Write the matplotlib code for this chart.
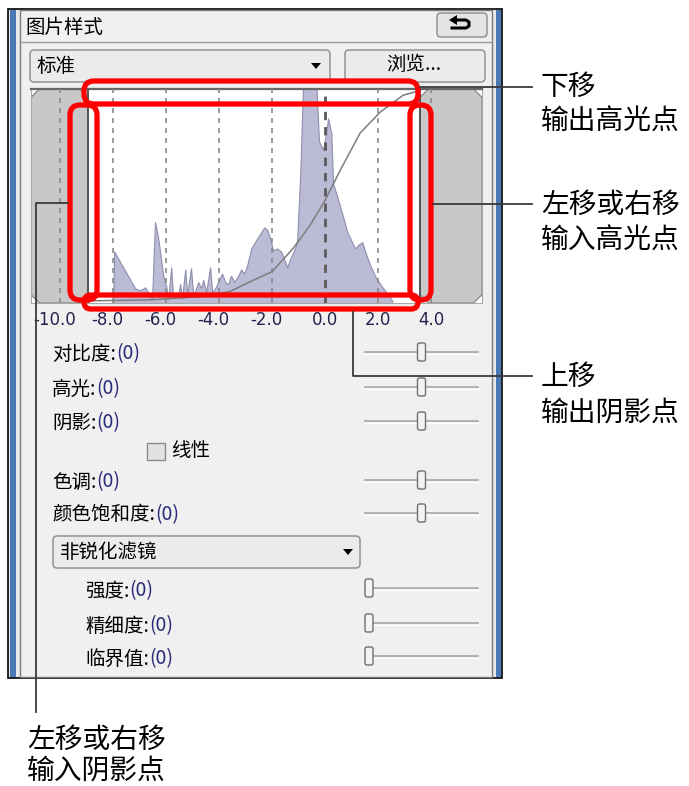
import matplotlib
matplotlib.use('Agg')
import matplotlib.pyplot as plt
from matplotlib.patches import Rectangle, FancyBboxPatch, Polygon
from matplotlib.transforms import blended_transform_factory, offset_copy

plt.rcParams['font.family'] = ['Noto Sans CJK SC', 'DejaVu Sans']

# histogram of the image (EV, relative height)
hist_ev = [-8.00, -7.96, -7.17, -6.98, -6.79, -6.60, -6.53, -6.42, -6.30, -6.11, -6.00,
           -5.92, -5.81, -5.74, -5.55, -5.47, -5.40, -5.28, -5.21, -5.06, -4.98, -4.87,
           -4.79, -4.68, -4.60, -4.49, -4.34, -4.26, -4.15, -4.00, -3.89, -3.77, -3.66,
           -3.55, -3.43, -3.28, -3.17, -3.06, -2.94, -2.79, -2.60, -2.45, -2.30, -2.19,
           -2.08, -1.96, -1.81, -1.66, -1.55, -1.43, -1.32, -1.17, -1.06, -0.94, -0.83,
           -0.34, -0.23, -0.08, 0.04, 0.11, 0.23, 0.30, 0.45, 0.68, 0.83, 0.94, 1.13,
           1.28, 1.40, 1.51, 1.70, 1.92, 2.19, 2.38, 2.53]
hist_v = [0.00, 0.235, 0.06, 0.05, 0.065, 0.02, 0.01, 0.376, 0.30, 0.12, 0.07,
          0.01, 0.16, 0.02, 0.02, 0.08, 0.01, 0.15, 0.03, 0.155, 0.03, 0.06,
          0.09, 0.06, 0.10, 0.04, 0.16, 0.04, 0.06, 0.10, 0.13, 0.09, 0.08,
          0.12, 0.09, 0.12, 0.15, 0.13, 0.17, 0.25, 0.29, 0.32, 0.35, 0.34,
          0.30, 0.24, 0.25, 0.235, 0.20, 0.16, 0.20, 0.24, 0.28, 0.60, 1.05,
          1.05, 0.76, 0.72, 0.80, 0.87, 0.80, 0.56, 0.50, 0.40, 0.33, 0.30, 0.25,
          0.27, 0.28, 0.235, 0.17, 0.11, 0.06, 0.03, 0.00]

# tone curve
curve_ev = [-8.94, -6.6, -4.72, -3.58, -3.09, -2.0, -1.21, -0.57, 0.0, 0.6, 1.32, 2.08, 2.94, 3.5]
curve_v = [0.0, 0.005, 0.02, 0.045, 0.076, 0.14, 0.25, 0.36, 0.48, 0.63, 0.80, 0.90, 0.98, 1.0]

shadow_in = -8.94
highlight_in = 3.58

tick_vals = [-10, -8, -6, -4, -2, 0, 2, 4]
tick_labels = ['-10.0', '-8.0', '-6.0', '-4.0', '-2.0', '0.0', '2.0', '4.0']

upper_labels = ['对比度:', '高光:', '阴影:', '色调:', '颜色饱和度:']
upper_values = [0, 0, 0, 0, 0]
upper_rows = [354, 389, 423, 482, 515]
lower_labels = ['强度:', '精细度:', '临界值:']
lower_values = [0, 0, 0]
lower_rows = [591, 626, 659]

W, H = 689, 786
fig = plt.figure(figsize=(W / 100, H / 100), dpi=100)


def px_axes(x0, y0, x1, y1, z):
    return fig.add_axes([x0 / W, 1 - y1 / H, (x1 - x0) / W, (y1 - y0) / H], zorder=z)


ui = px_axes(0, 0, W, H, 0)
ui.set_xlim(0, W)
ui.set_ylim(H, 0)
ui.axis('off')

# panel frame
ui.add_patch(Rectangle((8, 9), 494, 669, fc='#e9e9e9', ec='black', lw=1.2))
ui.add_patch(Rectangle((10, 10), 6, 667, fc='#4b79b4', ec='none'))
ui.add_patch(Rectangle((496, 10), 5, 667, fc='#4b79b4', ec='none'))
ui.add_patch(Rectangle((20, 10), 472, 667, fc='#f0f0f0', ec='#7a7a7a', lw=1))
ui.plot([20, 492], [42, 42], color='#9a9a9a', lw=1)

ui.text(25, 27, '图片样式', fontsize=14, va='center', ha='left')
# reset button
ui.add_patch(FancyBboxPatch((437, 13), 50, 24, boxstyle='round,pad=0,rounding_size=4',
                            fc='#e4e4e4', ec='#8a8a8a', lw=1))
ui.plot([456, 466, 469, 469, 466, 452], [20, 20, 22, 26, 28, 28], color='black', lw=2.2)
ui.add_patch(Polygon([(449, 20), (457, 15), (457, 25)], closed=True, fc='black', ec='none'))

# style dropdown + browse button
ui.add_patch(FancyBboxPatch((30, 50), 300, 32, boxstyle='round,pad=0,rounding_size=4',
                            fc='#ebebeb', ec='#8a8a8a', lw=1))
ui.text(36, 66, '标准', fontsize=14, va='center', ha='left')
ui.add_patch(Polygon([(311, 63), (321, 63), (316, 69)], closed=True, fc='black'))
ui.add_patch(FancyBboxPatch((345, 50), 140, 32, boxstyle='round,pad=0,rounding_size=4',
                            fc='#ebebeb', ec='#8a8a8a', lw=1))
ui.text(414, 64, '浏览...', fontsize=14, va='center', ha='center')

# histogram panel
hx = px_axes(31, 89, 482, 303, 1)
hx.set_xlim(-11.1, 5.92)
hx.set_ylim(-0.01, 1.01)
hx.set_facecolor('white')
hx.set_xticks([])
hx.set_yticks([])
for s in hx.spines.values():
    s.set_color('#a8a8a8')
hx.spines['top'].set_color('#666666')
hx.spines['top'].set_linewidth(1.6)

x0, x1 = hx.get_xlim()
y0, y1 = hx.get_ylim()
dx, dy = 0.32, 0.04


def side_block(a, b):
    pts = [(a, y0 + dy), (a + dx, y0), (b - dx, y0), (b, y0 + dy),
           (b, y1 - dy), (b - dx, y1), (a + dx, y1), (a, y1 - dy)]
    hx.add_patch(Polygon(pts, closed=True, fc='#c8c8c8', ec='#8c8c8c', lw=1, zorder=1))


side_block(x0, shadow_in)
side_block(highlight_in, x1)

hx.fill_between(hist_ev, hist_v, y0, color='#bbbbd5', ec='#8e8eae', lw=0.8, zorder=2)

for v in tick_vals:
    if v == 0:
        hx.axvline(v, color='#5a5a5a', lw=2, ls=(0, (3, 2.5)), zorder=3)
    else:
        hx.axvline(v, color='#8a8a8a', lw=1.2, ls=(0, (3, 3)), zorder=3)

hx.plot(curve_ev, curve_v, color='#7d7d7d', lw=1.1, zorder=4)
hx.axvline(shadow_in, color='#555555', lw=1.4, zorder=4)
hx.axvline(highlight_in, color='#555555', lw=1.4, zorder=4)

tr = blended_transform_factory(hx.transData, hx.transAxes)
for v, lab in zip(tick_vals, tick_labels):
    shift = -4 if v < 0 else 0
    hx.text(v, -0.08, lab, transform=offset_copy(tr, fig, x=shift, units='points'),
            ha='center', va='center', fontsize=12, color='#23234d',
            family='DejaVu Sans', clip_on=False)


def slider(y, value, vmin, vmax):
    ui.plot([365, 478], [y, y], color='#a6a6a6', lw=1.2)
    ui.plot([365, 478], [y + 1.5, y + 1.5], color='white', lw=1)
    cx = 369 + (value - vmin) / (vmax - vmin) * 105
    ui.add_patch(FancyBboxPatch((cx - 4, y - 9), 8, 18, boxstyle='round,pad=0,rounding_size=2',
                                fc='#f3f3f3', ec='#707070', lw=1, zorder=5))


def value_label(x, y, name, value):
    t = ui.text(x, y, name, fontsize=14, va='center', ha='left', color='black')
    ui.annotate(f'({value})', xy=(1, 0), xycoords=t, va='bottom', ha='left',
                fontsize=14, color='#2a2a78')


for name, val, y in zip(upper_labels, upper_values, upper_rows):
    value_label(52, y, name, val)
    slider(y - 2, val, -4, 4)

# linear checkbox
ui.add_patch(Rectangle((147, 443), 18, 17, fc='#e2e2e2', ec='#8a8a8a', lw=1))
ui.text(171, 451, '线性', fontsize=14, va='center', ha='left')

# unsharp mask dropdown
ui.add_patch(FancyBboxPatch((53, 536), 307, 32, boxstyle='round,pad=0,rounding_size=4',
                            fc='#ebebeb', ec='#8a8a8a', lw=1))
ui.text(60, 552, '非锐化滤镜', fontsize=14, va='center', ha='left')
ui.add_patch(Polygon([(343, 549), (353, 549), (348, 555)], closed=True, fc='black'))

for name, val, y in zip(lower_labels, lower_values, lower_rows):
    value_label(85, y, name, val)
    slider(y - 3, val, 0, 10)

# callouts
top = px_axes(0, 0, W, H, 3)
top.set_xlim(0, W)
top.set_ylim(H, 0)
top.axis('off')
top.patch.set_alpha(0)

red = dict(fc='none', ec='#ff0000', lw=3.8)
top.add_patch(FancyBboxPatch((84, 81), 334, 23, boxstyle='round,pad=0,rounding_size=10', **red))
top.add_patch(FancyBboxPatch((70, 105), 27, 195, boxstyle='round,pad=0,rounding_size=10', **red))
top.add_patch(FancyBboxPatch((410, 105), 21, 195, boxstyle='round,pad=0,rounding_size=10', **red))
top.add_patch(FancyBboxPatch((84, 295), 334, 14, boxstyle='round,pad=0,rounding_size=7', **red))

lc = dict(color='#3a3a3a', lw=1.3)
top.plot([420, 532], [87, 87], **lc)
top.plot([433, 532], [204, 204], **lc)
top.plot([353, 353, 532], [312, 376, 376], **lc)
top.plot([68, 36, 36], [203, 203, 712], **lc)

ann = dict(fontsize=20, va='center', ha='left', color='black')
top.text(541, 87, '下移', **ann)
top.text(541, 122, '输出高光点', **ann)
top.text(541, 205, '左移或右移', **ann)
top.text(541, 241, '输入高光点', **ann)
top.text(541, 377, '上移', **ann)
top.text(541, 413, '输出阴影点', **ann)
top.text(27, 740, '左移或右移', **ann)
top.text(27, 771, '输入阴影点', **ann)

fig.savefig('out.png', dpi=100)
